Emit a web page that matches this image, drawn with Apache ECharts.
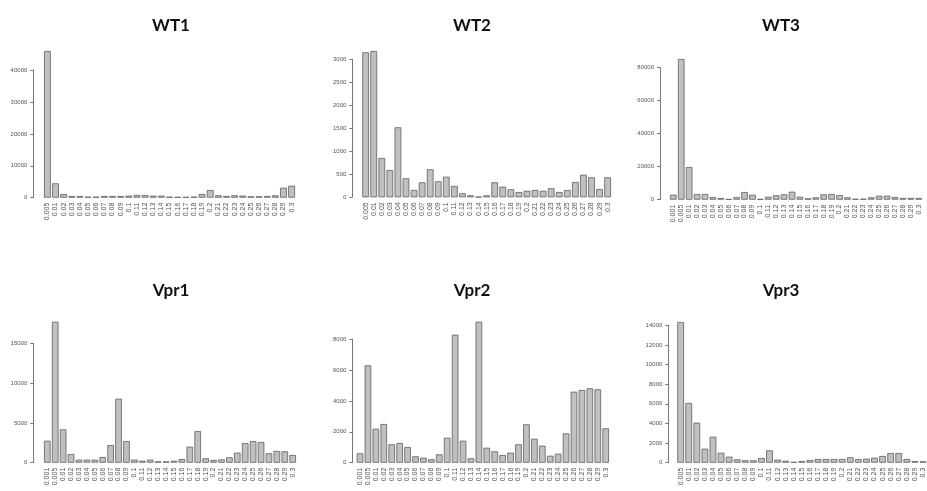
<!DOCTYPE html>
<html>
<head>
<meta charset="utf-8">
<script src="https://cdn.jsdelivr.net/npm/echarts@6/dist/echarts.min.js"></script>
<style>
html,body{margin:0;padding:0;background:#fff;}
#chart{width:927px;height:491px;}
</style>
</head>
<body>
<div id="chart"></div>
<script>
// ---- data ----
const catsA = ['0.005','0.01','0.02','0.03','0.04','0.05','0.06','0.07','0.08','0.09','0.1',
  '0.11','0.12','0.13','0.14','0.15','0.16','0.17','0.18','0.19','0.2',
  '0.21','0.22','0.23','0.24','0.25','0.26','0.27','0.28','0.29','0.3'];
const catsB = ['0.001','0.005','0.01','0.02','0.03','0.04','0.05','0.06','0.07','0.08','0.09','0.1',
  '0.11','0.12','0.13','0.14','0.15','0.16','0.17','0.18','0.19','0.2',
  '0.21','0.22','0.23','0.24','0.25','0.26','0.27','0.28','0.29','0.3'];

const wt1 = [46000,4500,1160,530,530,320,320,530,530,530,640,850,850,640,640,
  320,250,250,320,1160,2400,750,530,750,640,430,430,530,750,3130,3760];
const wt2 = [3152,3180,854,593,1522,413,159,326,609,348,448,246,87,43,13,
  43,326,230,174,115,143,159,143,196,115,159,333,491,435,180,435];
const wt3 = [3030,85270,19800,3450,3450,1640,1030,420,1640,4650,3030,420,1800,2670,3270,4850,
  1820,850,1450,3270,3450,2850,1450,600,600,1450,2420,2420,1640,1030,1030,1030];
const vpr1 = [2760,17710,4190,1090,380,380,380,710,2220,8040,2720,380,250,380,170,170,
  250,460,2010,3980,550,340,420,680,1260,2470,2720,2600,1180,1470,1430,970];
const vpr2 = [608,6300,2200,2505,1190,1275,1016,414,324,220,544,
  1618,8285,1424,285,9126,970,738,498,647,1190,2485,1553,1100,453,582,1900,4595,4705,4815,4750,2226];
const vpr3 = [14335,6082,4075,1426,2650,1019,611,346,245,245,479,1263,
  306,204,71,173,275,377,377,377,377,550,377,408,509,683,988,988,377,173,143];

const titles = ['WT1','WT2','WT3','Vpr1','Vpr2','Vpr3'];
const yTickTop = [40000,3000,80000,15000,8000,14000];
const yTickStep = [10000,500,20000,5000,2000,2000];

// ---- layout (pixels) ----
const panels = [
  {cats:catsA, data:wt1, axisX:33.3, start:44,    end:295,   y0:197.7, ppu:31.9/10000, tx:166, ty:12},
  {cats:catsA, data:wt2, axisX:352.3,start:362.3, end:611,   y0:197.3, ppu:23/500,     tx:467, ty:12},
  {cats:catsB, data:wt3, axisX:660,  start:670,   end:922,   y0:199.7, ppu:33/20000,   tx:776, ty:12},
  {cats:catsB, data:vpr1,axisX:33.3, start:44,    end:296,   y0:462.7, ppu:39.8/5000,  tx:166, ty:277},
  {cats:catsB, data:vpr2,axisX:352.3,start:356.7, end:609,   y0:462.7, ppu:30.9/2000,  tx:467, ty:277},
  {cats:catsA, data:vpr3,axisX:668.3,start:677.3, end:928,   y0:462.7, ppu:19.63/2000, tx:776, ty:277}
];

const G = 0.2/1.2; // R barplot space=0.2
const option = {
  backgroundColor:'#ffffff',
  animation:false,
  title:[], grid:[], xAxis:[], yAxis:[], series:[]
};
const labelFont = 'Liberation Sans, Arial, sans-serif';

panels.forEach((p,i)=>{
  const N = p.cats.length;
  const cw = (p.end - p.start)/(N - G);
  const maxV = Math.max(yTickTop[i], Math.max.apply(null,p.data));
  option.grid.push({left:p.start - cw*G/2, width:N*cw, top:p.y0 - maxV*p.ppu, height:maxV*p.ppu, containLabel:false});
  const gb = option.grid.length-1;
  option.xAxis.push({type:'category', gridIndex:gb, data:p.cats,
    axisLine:{show:false}, axisTick:{show:false},
    axisLabel:{rotate:90, interval:0, fontSize:7, color:'#555', margin:5, fontFamily:labelFont, hideOverlap:false}});
  option.yAxis.push({type:'value', gridIndex:gb, min:0, max:maxV, show:false});
  option.series.push({type:'bar', xAxisIndex:option.xAxis.length-1, yAxisIndex:option.yAxis.length-1,
    data:p.data, barCategoryGap:(G*100)+'%',
    itemStyle:{color:'#c0c0c0', borderColor:'#5e5e5e', borderWidth:0.8}, silent:true});
  option.grid.push({left:p.axisX, width:10, top:p.y0 - yTickTop[i]*p.ppu, height:yTickTop[i]*p.ppu});
  const ga = option.grid.length-1;
  option.xAxis.push({type:'value', gridIndex:ga, min:0, max:1, show:false});
  option.yAxis.push({type:'value', gridIndex:ga, min:0, max:yTickTop[i], interval:yTickStep[i],
    axisLine:{show:true, lineStyle:{color:'#777', width:1}},
    axisTick:{show:true, length:3, lineStyle:{color:'#777'}},
    splitLine:{show:false},
    axisLabel:{fontSize:6, color:'#555', margin:6, fontFamily:labelFont, formatter:v=>String(v)}});
  option.title.push({text:titles[i], left:p.tx, top:p.ty, textAlign:'center',
    textStyle:{fontFamily:'Lato, Open Sans, sans-serif', fontWeight:'bold', fontSize:17, color:'#111'}});
});

const chart = echarts.init(document.getElementById('chart'), null, {renderer:'canvas'});
chart.setOption(option);
</script>
</body>
</html>
